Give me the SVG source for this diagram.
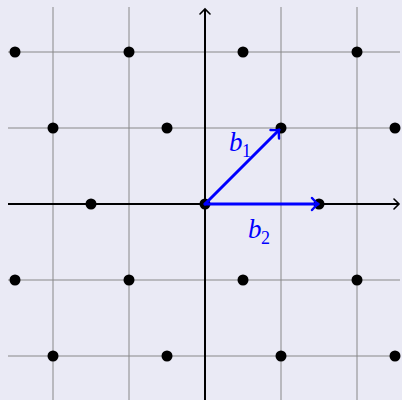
<svg xmlns="http://www.w3.org/2000/svg" width="402" height="400" viewBox="0 0 402 400">
<style>
.grid{stroke:#888;stroke-width:1;fill:none}
.axis{stroke:#000;stroke-width:2;fill:none}
.vec{stroke:#0000ff;stroke-width:3;fill:none;stroke-linecap:round}
.dot{fill:#000}
.lbl{font-family:"Liberation Serif",serif;font-style:italic;font-size:27px;fill:#0000ff}
.sub{font-family:"Liberation Serif",serif;font-size:18px;fill:#0000ff}
</style>
<defs>
<marker id="ah" viewBox="-6 -6 8 12" markerWidth="8" markerHeight="12" refX="0" refY="0" orient="auto" markerUnits="userSpaceOnUse">
<path d="M-5,-5 Q-1,-1 0,0 Q-1,1 -5,5" fill="none" stroke="#000" stroke-width="1.6" stroke-linecap="round"/>
</marker>
<marker id="bh" viewBox="-8 -8 10 16" markerWidth="10" markerHeight="16" refX="0" refY="0" orient="auto" markerUnits="userSpaceOnUse">
<path d="M-6,-6 Q-1.5,-1 0,0 Q-1.5,1 -6,6" fill="none" stroke="#0000ff" stroke-width="2.4" stroke-linecap="round"/>
</marker>
</defs>
<rect width="402" height="400" fill="#eaeaf5"/>
<g id="grid">
<path class="grid" d="M53,7V400M129,7V400M281,7V400M357,7V400M8,52H400M8,128H400M8,280H400M8,356H400"/>
</g>
<g id="axes">
<line class="axis" x1="8" y1="204" x2="399" y2="204" marker-end="url(#ah)"/>
<line class="axis" x1="205" y1="400" x2="205" y2="9" marker-end="url(#ah)"/>
</g>
<g id="dots">
<circle class="dot" cx="15" cy="52" r="5.5"/><circle class="dot" cx="129" cy="52" r="5.5"/><circle class="dot" cx="243" cy="52" r="5.5"/><circle class="dot" cx="357" cy="52" r="5.5"/>
<circle class="dot" cx="53" cy="128" r="5.5"/><circle class="dot" cx="167" cy="128" r="5.5"/><circle class="dot" cx="281" cy="128" r="5.5"/><circle class="dot" cx="395" cy="128" r="5.5"/>
<circle class="dot" cx="91" cy="204" r="5.5"/><circle class="dot" cx="205" cy="204" r="5.5"/><circle class="dot" cx="319" cy="204" r="5.5"/>
<circle class="dot" cx="15" cy="280" r="5.5"/><circle class="dot" cx="129" cy="280" r="5.5"/><circle class="dot" cx="243" cy="280" r="5.5"/><circle class="dot" cx="357" cy="280" r="5.5"/>
<circle class="dot" cx="53" cy="356" r="5.5"/><circle class="dot" cx="167" cy="356" r="5.5"/><circle class="dot" cx="281" cy="356" r="5.5"/><circle class="dot" cx="395" cy="356" r="5.5"/>
</g>
<g id="connectors">
<line class="vec" x1="205" y1="204" x2="279" y2="130" marker-end="url(#bh)"/>
<line class="vec" x1="205" y1="204" x2="318" y2="204" marker-end="url(#bh)"/>
</g>
<g id="label-b1"><text class="lbl" x="229" y="151">b</text><text class="sub" x="242" y="157">1</text></g>
<g id="label-b2"><text class="lbl" x="248" y="238">b</text><text class="sub" x="261" y="244">2</text></g>
</svg>
